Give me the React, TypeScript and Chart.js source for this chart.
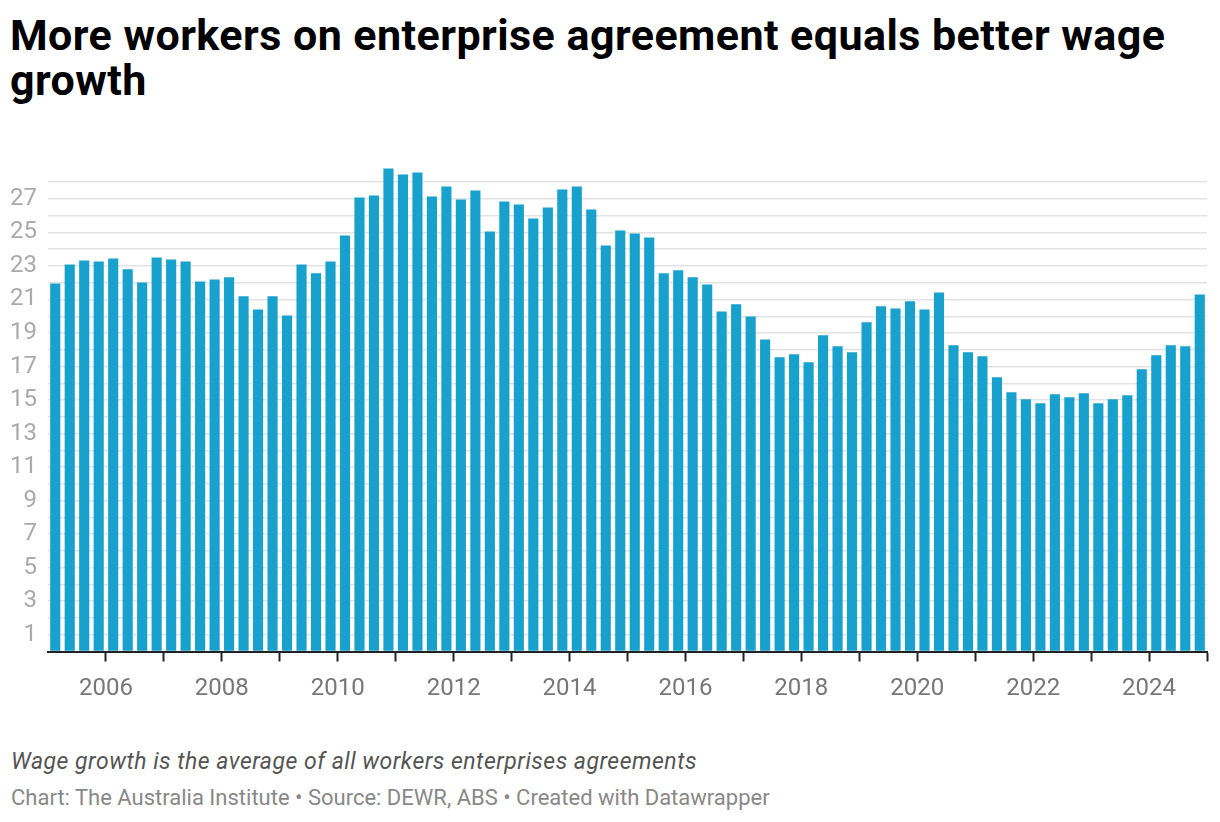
import React, { useEffect, useRef } from "react";
import { Chart, registerables } from "chart.js";

Chart.register(...registerables);

// Quarterly categories, 2005 Q1 – 2024 Q4
const startYear = 2005;
const quarterLabels: string[] = Array.from(
  { length: 80 },
  (_, i) => `${startYear + Math.floor(i / 4)} Q${(i % 4) + 1}`
);

// Average wage growth of workers on enterprise agreements
const wageGrowth: number[] = [
  21.96, 23.09, 23.33, 23.27, 23.45, 22.8, 22.02, 23.51, 23.39, 23.27,
  22.08, 22.2, 22.32, 21.19, 20.41, 21.19, 20.05, 23.09, 22.56, 23.27,
  24.82, 27.09, 27.21, 28.81, 28.45, 28.57, 27.15, 27.74, 26.97, 27.5,
  25.06, 26.85, 26.67, 25.83, 26.49, 27.56, 27.74, 26.37, 24.22, 25.12,
  24.94, 24.7, 22.56, 22.74, 22.32, 21.9, 20.29, 20.71, 19.99, 18.62,
  17.55, 17.73, 17.25, 18.86, 18.21, 17.85, 19.64, 20.59, 20.47, 20.89,
  20.41, 21.42, 18.27, 17.85, 17.61, 16.36, 15.46, 15.05, 14.81, 15.35,
  15.17, 15.41, 14.81, 15.05, 15.29, 16.84, 17.67, 18.27, 18.21, 21.3,
];

const xLabelYears: number[] = [2006, 2008, 2010, 2012, 2014, 2016, 2018, 2020, 2022, 2024];
const yLabelValues: number[] = [1, 3, 5, 7, 9, 11, 13, 15, 17, 19, 21, 23, 25, 27];

const titleText = "More workers on enterprise agreement equals better wage growth";
const noteText = "Wage growth is the average of all workers enterprises agreements";
const creditText =
  "Chart: The Australia Institute \u2022 Source: DEWR, ABS \u2022 Created with Datawrapper";

function quarterToX(label: string): number {
  const [y, q] = label.split(" Q");
  return Number(y) + (Number(q) - 0.5) / 4;
}

export default function App() {
  const canvasRef = useRef<HTMLCanvasElement | null>(null);

  useEffect(() => {
    const canvas = canvasRef.current;
    if (!canvas) return;
    Chart.defaults.font.family = "Roboto";
    const chart = new Chart(canvas, {
      type: "bar",
      data: {
        datasets: [
          {
            data: quarterLabels.map((q, i) => ({ x: quarterToX(q), y: wageGrowth[i] })),
            backgroundColor: "#18a1cd",
            borderWidth: 0,
            barPercentage: 0.7,
            categoryPercentage: 1,
          },
        ],
      },
      options: {
        animation: false,
        responsive: false,
        layout: { padding: { top: 24.9, right: 12, bottom: 0, left: 0 } },
        plugins: {
          legend: { display: false },
          tooltip: { enabled: false },
        },
        scales: {
          x: {
            type: "linear",
            min: 2005,
            max: 2025,
            offset: false,
            ticks: {
              stepSize: 1,
              autoSkip: false,
              maxRotation: 0,
              minRotation: 0,
              padding: 13,
              color: "#777777",
              font: { size: 24, family: "Roboto" },
              callback: (v: any) => (xLabelYears.includes(Number(v)) ? String(v) : ""),
            },
            grid: {
              drawOnChartArea: false,
              drawTicks: true,
              tickLength: 10,
              tickWidth: 2,
              offset: false,
              tickColor: (ctx: any) =>
                ctx.tick && ctx.tick.value === 2005 ? "rgba(0,0,0,0)" : "#222222",
            },
            border: { display: true, color: "#222222", width: 2 },
            afterFit: (s: any) => {
              s.height = 68.5;
            },
          },
          y: {
            type: "linear",
            min: 0,
            max: 29,
            ticks: {
              stepSize: 1,
              autoSkip: false,
              padding: 11,
              color: "#aaaaaa",
              font: { size: 24, family: "Roboto" },
              callback: (v: any) => (yLabelValues.includes(Number(v)) ? String(v) : ""),
            },
            grid: {
              drawTicks: false,
              lineWidth: 1.5,
              color: (ctx: any) =>
                ctx.tick && (ctx.tick.value === 29 || ctx.tick.value === 0)
                  ? "rgba(0,0,0,0)"
                  : "#e3e3e3",
            },
            border: { display: false },
            afterFit: (s: any) => {
              s.width = 48;
            },
          },
        },
      },
    });
    return () => chart.destroy();
  }, []);

  return (
    <div
      style={{
        position: "absolute",
        left: 0,
        top: 0,
        width: 1220,
        height: 822,
        background: "#ffffff",
        overflow: "hidden",
        fontFamily: "Roboto, sans-serif",
      }}
    >
      <div
        style={{
          position: "absolute",
          left: 10,
          top: 12.8,
          width: 1200,
          fontSize: 43,
          letterSpacing: 0.45,
          lineHeight: "45px",
          fontWeight: 700,
          color: "#000000",
        }}
      >
        {titleText}
      </div>
      <canvas
        ref={canvasRef}
        width={1220}
        height={580}
        style={{ position: "absolute", left: 0, top: 140, width: 1220, height: 580 }}
      />
      <div
        style={{
          position: "absolute",
          left: 11,
          top: 748,
          fontSize: 23,
          letterSpacing: 0.5,
          lineHeight: "27px",
          fontStyle: "italic",
          color: "#555555",
          whiteSpace: "nowrap",
        }}
      >
        {noteText}
      </div>
      <div
        style={{
          position: "absolute",
          left: 11,
          top: 785.2,
          fontSize: 22,
          lineHeight: "26px",
          color: "#888888",
          whiteSpace: "nowrap",
        }}
      >
        {creditText}
      </div>
    </div>
  );
}
